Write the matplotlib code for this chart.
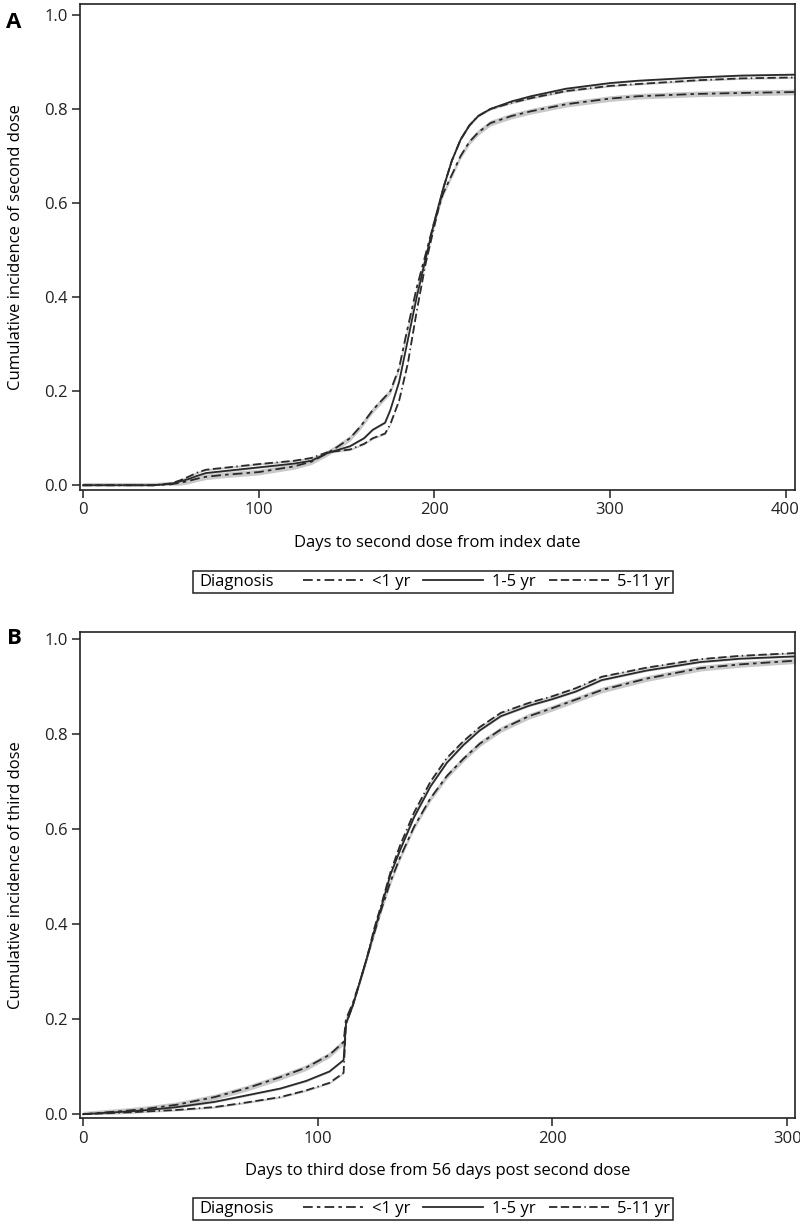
import numpy as np
import matplotlib
matplotlib.use("Agg")
import matplotlib.pyplot as plt
from matplotlib.patches import Rectangle

plt.rcParams['font.family'] = ['Open Sans', 'DejaVu Sans']
plt.rcParams['font.size'] = 12
plt.rcParams['lines.scale_dashes'] = False

groups = ["<1 yr", "1-5 yr", "5-11 yr"]

# Panel A: days to second dose from index date
days_a_lt1 = [0, 40, 50, 55, 60, 65, 70, 80, 100, 120, 130, 139, 145, 152, 158, 165, 170, 175, 180, 184,
              190, 195, 200, 205, 210, 215, 220, 225, 232, 244, 255, 275, 300, 316, 350, 375, 406]
inc_a_lt1 = [0, 0, 0.002, 0.005, 0.009, 0.014, 0.018, 0.022, 0.028, 0.04, 0.05, 0.068, 0.082, 0.10, 0.125,
             0.16, 0.18, 0.20, 0.25, 0.32, 0.42, 0.49, 0.56, 0.62, 0.66, 0.70, 0.73, 0.75, 0.77, 0.785,
             0.795, 0.810, 0.822, 0.827, 0.832, 0.834, 0.836]
days_a = [0, 40, 50, 55, 60, 65, 70, 80, 100, 120, 130, 139, 152, 160, 165, 172, 175, 180, 185, 190,
          195, 200, 205, 210, 215, 220, 225, 232, 244, 255, 275, 300, 316, 350, 375, 406]
inc_a_1to5 = [0, 0, 0.003, 0.008, 0.013, 0.02, 0.026, 0.03, 0.038, 0.046, 0.052, 0.068, 0.083, 0.10, 0.118,
              0.133, 0.16, 0.22, 0.31, 0.40, 0.48, 0.56, 0.63, 0.69, 0.735, 0.765, 0.785, 0.80, 0.816,
              0.827, 0.843, 0.855, 0.860, 0.867, 0.871, 0.873]
inc_a_5to11 = [0, 0, 0.004, 0.01, 0.018, 0.027, 0.033, 0.037, 0.045, 0.052, 0.058, 0.07, 0.076, 0.088, 0.10,
               0.11, 0.13, 0.18, 0.26, 0.37, 0.47, 0.55, 0.63, 0.69, 0.735, 0.765, 0.785, 0.80, 0.813,
               0.823, 0.838, 0.849, 0.853, 0.861, 0.865, 0.867]

# Panel B: days to third dose from 56 days post second dose
days_b = [0, 10, 20, 28, 40, 56, 70, 84, 95, 105, 111, 112, 115, 118, 121, 124, 127, 131, 135, 141,
          148, 155, 162, 169, 178, 190, 200, 210, 221, 240, 263, 280, 304]
inc_b_lt1 = [0, 0.004, 0.008, 0.012, 0.02, 0.036, 0.055, 0.078, 0.098, 0.125, 0.152, 0.20, 0.235, 0.28,
             0.33, 0.38, 0.43, 0.49, 0.54, 0.605, 0.665, 0.712, 0.748, 0.78, 0.81, 0.838, 0.855, 0.873,
             0.893, 0.917, 0.939, 0.947, 0.955]
inc_b_1to5 = [0, 0.003, 0.006, 0.009, 0.015, 0.026, 0.04, 0.054, 0.07, 0.09, 0.114, 0.19, 0.23, 0.28,
              0.33, 0.385, 0.435, 0.505, 0.555, 0.625, 0.69, 0.74, 0.777, 0.808, 0.838, 0.86, 0.874,
              0.89, 0.914, 0.934, 0.952, 0.959, 0.964]
inc_b_5to11 = [0, 0.002, 0.004, 0.006, 0.009, 0.015, 0.025, 0.036, 0.05, 0.066, 0.087, 0.19, 0.23, 0.28,
               0.33, 0.39, 0.44, 0.51, 0.565, 0.635, 0.70, 0.75, 0.785, 0.815, 0.845, 0.866, 0.88,
               0.897, 0.921, 0.94, 0.958, 0.965, 0.971]

# half-width of the confidence band per group (smallest group has the widest band)
ci_half = [0.006, 0.002, 0.002]

line_color = "#2a2a2a"
band_color = "#c9c9c9"
styles = [(0, (7, 3, 2.5, 3)), "-", (0, (6, 2.5, 6, 2.5, 6, 2.5, 1, 2.5))]

fig = plt.figure(figsize=(8, 12.24), dpi=100)
ax_a = fig.add_axes([0.1, 0.5997, 0.894, 0.397])
ax_b = fig.add_axes([0.1, 0.0866, 0.894, 0.397])

panel_a = [(days_a_lt1, inc_a_lt1), (days_a, inc_a_1to5), (days_a, inc_a_5to11)]
panel_b = [(days_b, inc_b_lt1), (days_b, inc_b_1to5), (days_b, inc_b_5to11)]


def draw_panel(ax, series, xlim, ylim, xticks, xlabel, ylabel):
    handles = []
    for (d, v), hw in zip(series, ci_half):
        d = np.array(d)
        v = np.array(v)
        ax.fill_between(d, np.clip(v - hw, 0, None), v + hw, color=band_color, lw=0, zorder=1)
    for (d, v), ls, name in zip(series, styles, groups):
        h, = ax.plot(d, v, color=line_color, lw=1.3, linestyle=ls, label=name, zorder=3)
        handles.append(h)
    ax.set_xlim(*xlim)
    ax.set_ylim(*ylim)
    ax.set_xticks(xticks)
    ax.set_yticks([0, 0.2, 0.4, 0.6, 0.8, 1.0])
    ax.set_yticklabels(["0.0", "0.2", "0.4", "0.6", "0.8", "1.0"])
    ax.tick_params(direction="out", length=6, width=1.1, colors="#222222", labelsize=12, pad=3)
    for s in ax.spines.values():
        s.set_linewidth(1.2)
        s.set_color("#222222")
    ax.set_xlabel(xlabel, fontsize=12, labelpad=12)
    ax.set_ylabel(ylabel, fontsize=12)
    # y label anchor is its right edge once rotated
    ax.yaxis.set_label_coords(-0.0783, 0.5)
    return handles


h_a = draw_panel(ax_a, panel_a, (-1.7, 405.5), (-0.01, 1.023), [0, 100, 200, 300, 400],
                 "Days to second dose from index date", "Cumulative incidence of second dose")
h_b = draw_panel(ax_b, panel_b, (-1.3, 303.4), (-0.008, 1.015), [0, 100, 200, 300],
                 "Days to third dose from 56 days post second dose", "Cumulative incidence of third dose")

fig.text(14 / 800, 1 - 22 / 1224, "A", fontsize=16, fontweight="bold", ha="center", va="center")
fig.text(14 / 800, 1 - 639 / 1224, "B", fontsize=16, fontweight="bold", ha="center", va="center")

# legends: "Diagnosis" label + three line samples inside one box
for handles, y_top, y_bot in [(h_a, 571, 593), (h_b, 1198, 1220)]:
    yc = 1 - (y_top + y_bot) / 2 / 1224
    fig.add_artist(Rectangle((193 / 800, 1 - y_bot / 1224), 480 / 800, (y_bot - y_top) / 1224,
                             transform=fig.transFigure, fill=False, lw=1.1, ec="#222222"))
    fig.text(199 / 800, yc, "Diagnosis", fontsize=12, ha="left", va="center")
    fig.legend(handles=handles, labels=groups, ncol=3, loc="center right",
               bbox_to_anchor=(670 / 800, yc), frameon=False, fontsize=12,
               handlelength=3.6, handletextpad=0.5, columnspacing=0.8,
               borderpad=0, borderaxespad=0)

fig.savefig("out.png", dpi=100)
